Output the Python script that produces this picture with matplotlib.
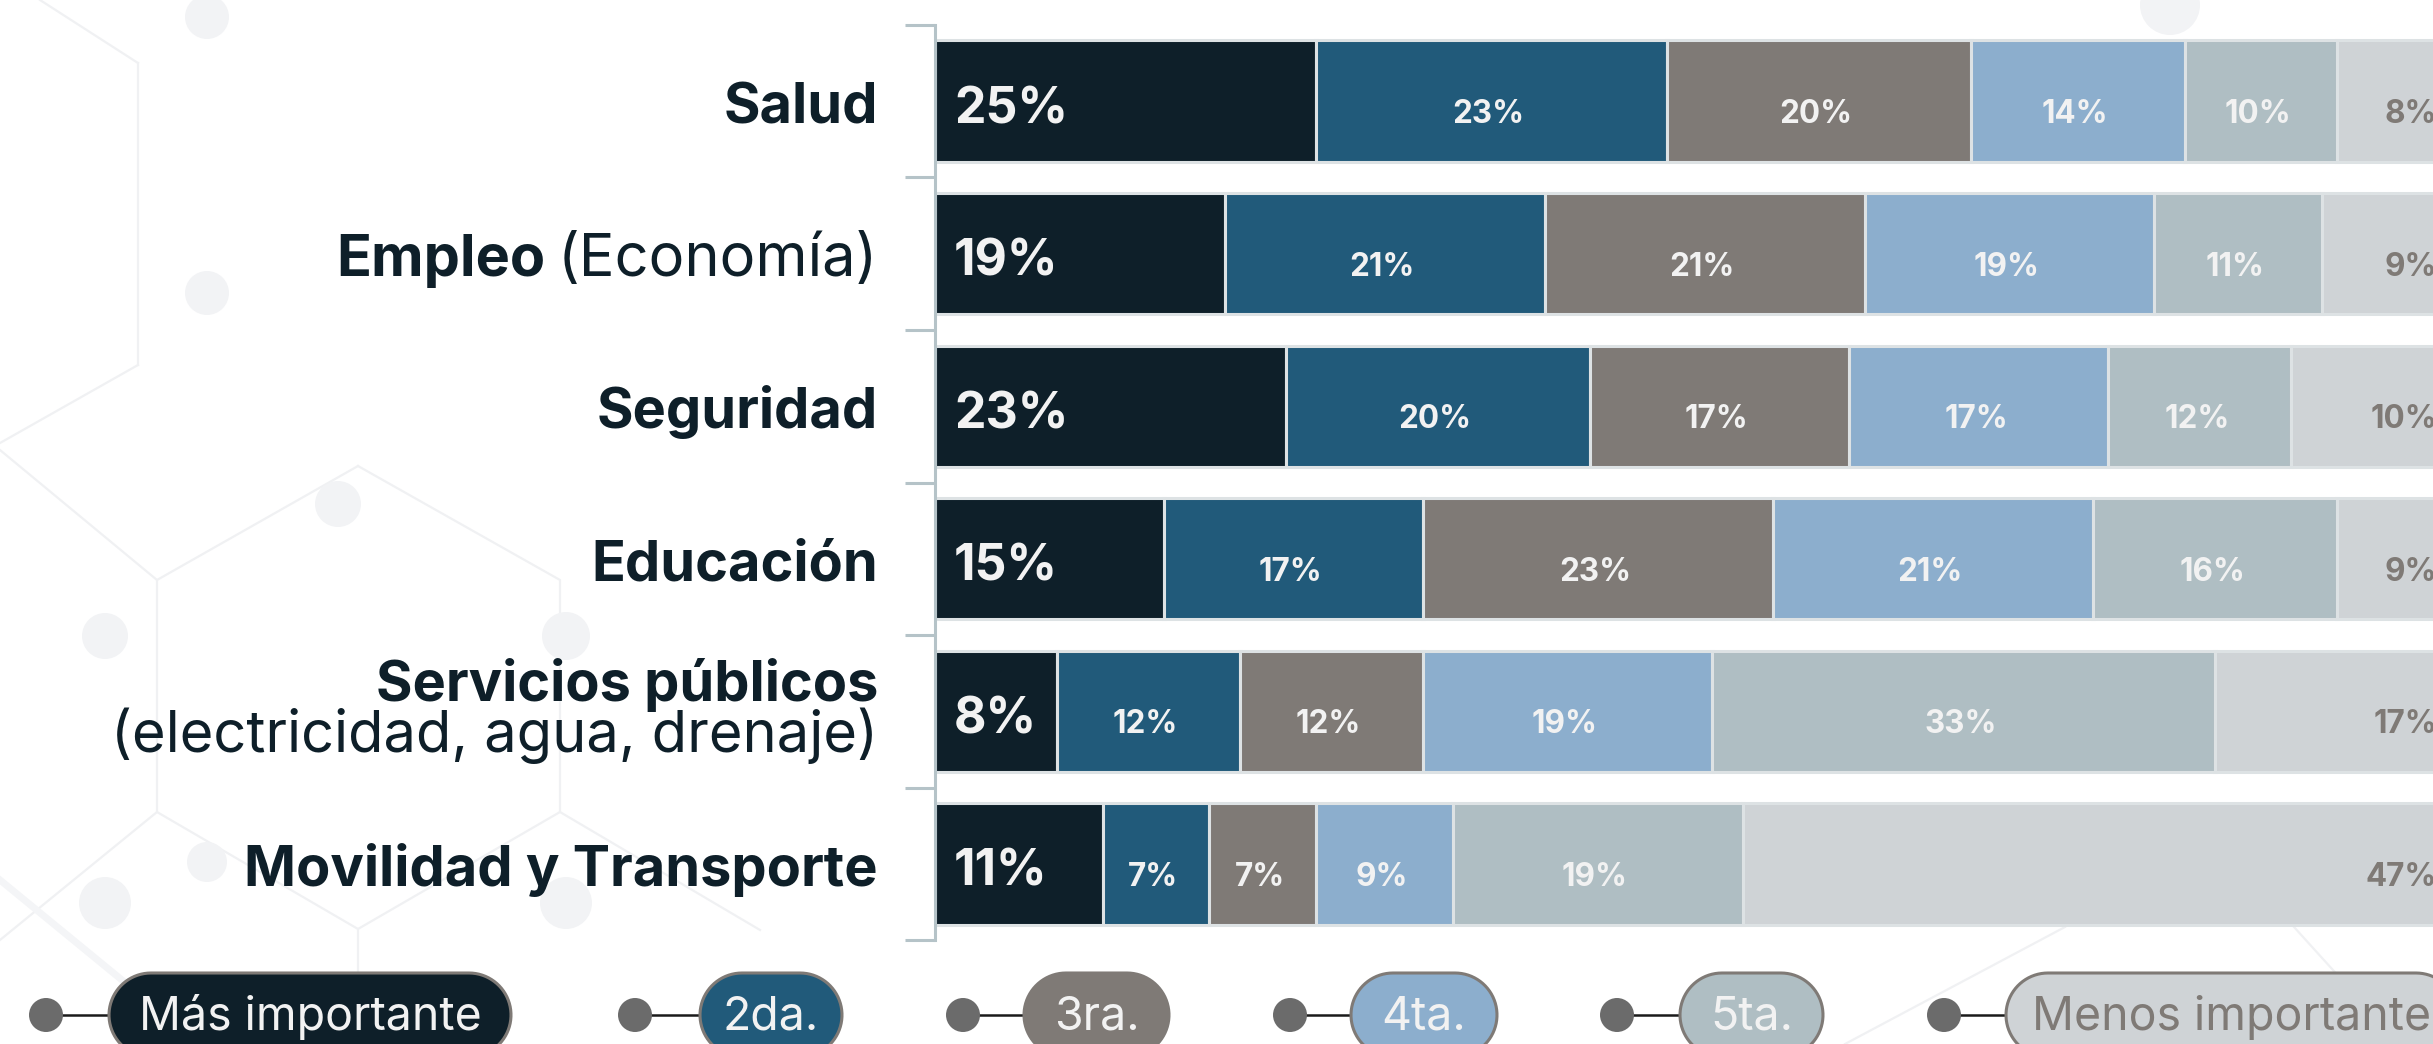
import numpy as np
import matplotlib
matplotlib.use("Agg")
import matplotlib.pyplot as plt
from matplotlib.patches import Circle, Polygon
import matplotlib.transforms as mtrans

plt.rcParams['font.family'] = ['Inter', 'DejaVu Sans']

# ---------------- data ----------------
categorias = ["Salud", "Empleo", "Seguridad", "Educación",
              "Servicios públicos", "Movilidad y Transporte"]
subtitulos = ["", "(Economía)", "", "", "(electricidad, agua, drenaje)", ""]
niveles = ["Más importante", "2da.", "3ra.", "4ta.", "5ta.", "Menos importante"]

mas_importante = [25, 19, 23, 15, 8, 11]
segunda = [23, 21, 20, 17, 12, 7]
tercera = [20, 21, 17, 23, 12, 7]
cuarta = [14, 19, 17, 21, 19, 9]
quinta = [10, 11, 12, 16, 33, 19]
menos_importante = [8, 9, 10, 9, 17, 47]

colores = ["#0e1f29", "#215a7a", "#7f7a76", "#8caecd", "#afbec3", "#cfd3d6"]
color_etiqueta = ["#f2f2f2", "#f2f2f2", "#f2f2f2", "#f2f2f2", "#f2f2f2", "#7f7a76"]
color_texto = "#0e1f29"

# ---------------- figure ----------------
W, H, DPI = 2433, 1044, 100
fig = plt.figure(figsize=(W / DPI, H / DPI), dpi=DPI, facecolor="white")
renderer = fig.canvas.get_renderer()


def fit(text, target_px, weight, base=40.0):
    t = fig.text(0, 0, text, fontsize=base, fontweight=weight)
    w = t.get_window_extent(renderer).width
    t.remove()
    return base * target_px / w


# background / legend layer in pixel coordinates
bg = fig.add_axes([0, 0, 1, 1], zorder=0)
bg.set_xlim(0, W)
bg.set_ylim(H, 0)
bg.axis("off")

deco_line = "#f0f1f3"
deco_circ = "#f2f3f5"
hexagon = [(358, 466), (560, 580), (560, 812), (358, 929), (157, 812), (157, 580), (358, 466)]
bg.plot(*zip(*hexagon), color=deco_line, lw=1.6, zorder=0)
for seg in [[(0, 450), (157, 580)], [(0, 940), (157, 812)], [(358, 929), (358, 1044)],
            [(560, 812), (760, 930)], [(138, 63), (138, 365)], [(138, 365), (0, 443)],
            [(138, 63), (40, 0)],
            [(2065, 927), (1845, 1044)], [(2294, 927), (2400, 1044)]]:
    bg.plot(*zip(*seg), color=deco_line, lw=1.6, zorder=0)
for seg in [[(0, 880), (200, 1044)]]:
    bg.plot(*zip(*seg), color="#f4f5f7", lw=5, zorder=0)
for (cx, cy, r) in [(338, 504, 23), (105, 636, 23), (566, 636, 24), (105, 903, 26),
                    (566, 903, 26), (207, 862, 20), (207, 17, 22), (207, 293, 22),
                    (2170, 5, 30)]:
    bg.add_patch(Circle((cx, cy), r, fc=deco_circ, ec="none", zorder=0))

# main bar axes
ax_left, ax_w = 935, 1524
ax_top, ax_bot = 24.7, 940.3
ax = fig.add_axes([ax_left / W, 1 - ax_bot / H, ax_w / W, (ax_bot - ax_top) / H], zorder=2)
ax.patch.set_alpha(0)

y = np.arange(len(categorias))
series = [mas_importante, segunda, tercera, cuarta, quinta, menos_importante]

big_fs = fit("25%", 114, "bold")
small_fs = fit("23%", 72, "bold")


def off(base_tr, dx_px, dy_px):
    return base_tr + mtrans.ScaledTranslation(dx_px / DPI, -dy_px / DPI, fig.dpi_scale_trans)


left = np.zeros(len(y))
for i, vals in enumerate(series):
    vals = np.asarray(vals, dtype=float)
    ax.barh(y, vals, left=left, height=0.793, color=colores[i],
            edgecolor="#dde2e4", linewidth=2.2, zorder=2)
    for j, v in enumerate(vals):
        lab = f"{int(v)}%"
        if i == 0:
            ax.text(left[j], j, lab, transform=off(ax.transData, 19, 22),
                    ha="left", va="baseline", fontsize=big_fs, fontweight="bold",
                    color=color_etiqueta[i], zorder=3)
        elif i == len(series) - 1:
            ax.text(100, j, lab, transform=off(ax.transData, -22, 22),
                    ha="right", va="baseline", fontsize=small_fs, fontweight="bold",
                    color=color_etiqueta[i], zorder=3)
        else:
            ax.text(left[j] + v / 2, j, lab, transform=off(ax.transData, -3, 22),
                    ha="center", va="baseline", fontsize=small_fs, fontweight="bold",
                    color=color_etiqueta[i], zorder=3)
    left += vals

ax.set_xlim(0, 100)
ax.set_ylim(len(y) - 0.5, -0.5)
for s in ["top", "right", "bottom"]:
    ax.spines[s].set_visible(False)
ax.spines["left"].set_color("#b5c3c8")
ax.spines["left"].set_linewidth(2.2)
ax.set_xticks([])
ax.set_yticks(np.arange(-0.5, len(y), 1.0))
ax.tick_params(axis="y", direction="out", length=21.6, width=2.2, color="#b5c3c8",
               labelleft=False)

# category labels
cat_fs = fit("Movilidad y Transporte", 634, "bold")
sub_fs = fit("(electricidad, agua, drenaje)", 768, "normal")
ytr = ax.get_yaxis_transform()
for j, (cat, sub) in enumerate(zip(categorias, subtitulos)):
    if sub and j == 4:
        ax.text(0, j, cat, transform=off(ytr, -57, -10), ha="right", va="baseline",
                fontsize=cat_fs * 1.0, fontweight="bold", color=color_texto)
        ax.text(0, j, sub, transform=off(ytr, -57, 41), ha="right", va="baseline",
                fontsize=sub_fs, fontweight="normal", color=color_texto)
    elif sub:
        t_sub = ax.text(0, j, sub, transform=off(ytr, -57, 22), ha="right", va="baseline",
                        fontsize=sub_fs * 1.03, fontweight="normal", color=color_texto)
        ax.annotate(cat, xy=(0, j), xycoords=(t_sub, "data"),
                    xytext=(-9, -22 * 0.72), textcoords="offset points",
                    ha="right", va="baseline", fontsize=cat_fs * 1.03, fontweight="bold",
                    color=color_texto)
    else:
        ax.text(0, j, cat, transform=off(ytr, -57, 22), ha="right", va="baseline",
                fontsize=cat_fs, fontweight="bold", color=color_texto)


# legend
def pill(x0, x1, yc, h, **kw):
    r = h / 2.0
    t1 = np.linspace(-np.pi / 2, np.pi / 2, 40)
    t2 = np.linspace(np.pi / 2, 3 * np.pi / 2, 40)
    right = np.column_stack([x1 - r + r * np.cos(t1), yc + r * np.sin(t1)])
    leftp = np.column_stack([x0 + r + r * np.cos(t2), yc + r * np.sin(t2)])
    return Polygon(np.vstack([right, leftp]), closed=True, **kw)


leg_fs = fit("Más importante", 342, "normal")
pills = [(109, 511), (700, 842), (1024, 1169), (1351, 1497), (1680, 1823), (2006, 2458)]
dots = [46, 635, 963, 1290, 1617, 1944]
pill_h, ymid = 84, 1015
for k, nivel in enumerate(niveles):
    x0, x1 = pills[k]
    bg.plot([dots[k], x0], [ymid, ymid], color="#1a1a1a", lw=1.8, zorder=3)
    bg.add_patch(Circle((dots[k], ymid), 17, fc="#6b6b6b", ec="none", zorder=4))
    bg.add_patch(pill(x0, x1, ymid, pill_h, fc=colores[k], ec="#7f7a76", lw=2.2, zorder=4))
    bg.text((x0 + x1) / 2, 1030, nivel, ha="center", va="baseline", fontsize=leg_fs,
            fontweight="normal",
            color=color_etiqueta[k] if k < 5 else "#7f7a76", zorder=5)

fig.savefig("out.png", dpi=DPI, facecolor="white")
